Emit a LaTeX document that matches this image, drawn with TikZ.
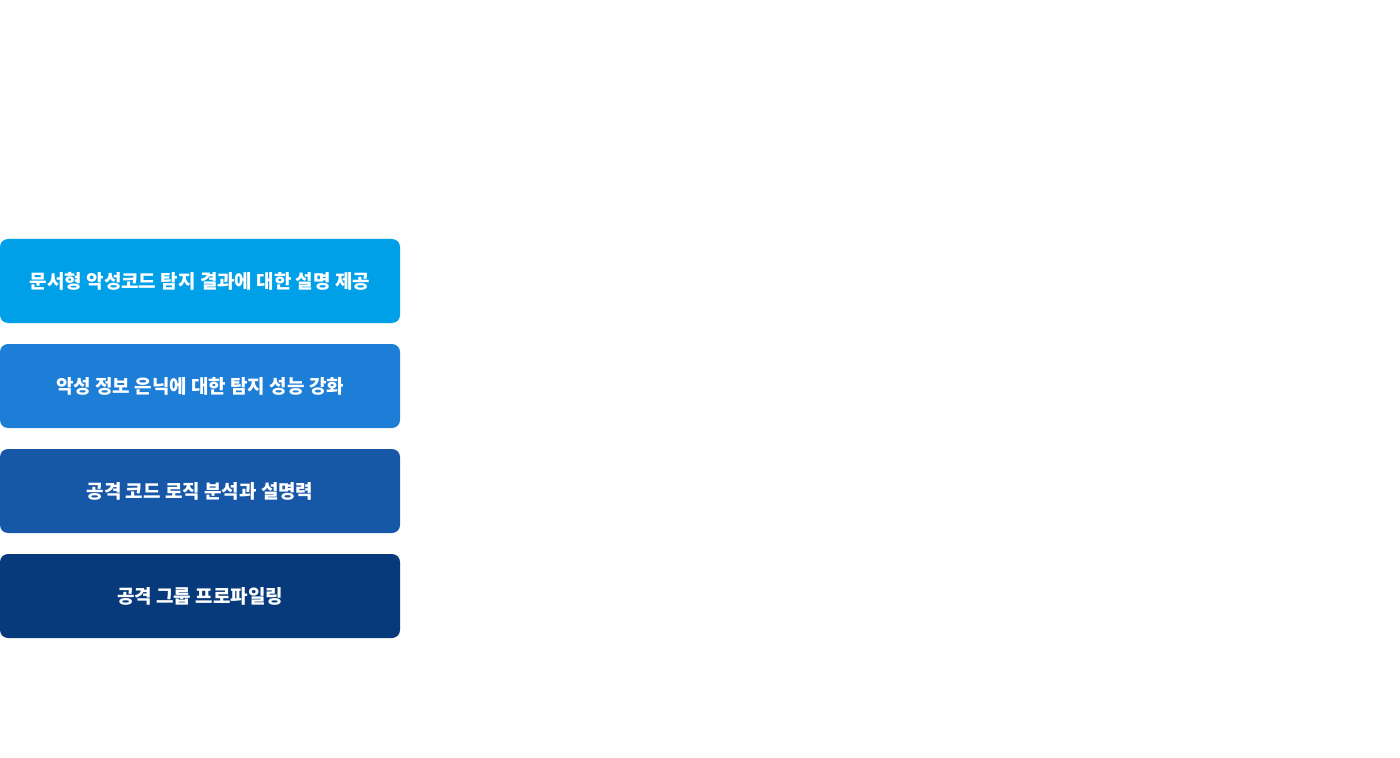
\documentclass[tikz,border=0pt]{standalone}
\usepackage{fontspec}
\newfontfamily\krfont{Noto Sans CJK KR}
\usepackage{tikz}
\usetikzlibrary{positioning}
\definecolor{SkyBlue}{HTML}{00A0E9}
\definecolor{MidBlue}{HTML}{1C7ED7}
\definecolor{DeepBlue}{HTML}{1757A8}
\definecolor{NavyBlue}{HTML}{073A7A}

\begin{document}
\begin{tikzpicture}[
		featbox/.style={rectangle, rounded corners=0.16cm, minimum width=8cm, minimum height=1.68cm,
			inner sep=0pt, outer sep=0pt, text=white, font=\krfont\bfseries\fontsize{10.8pt}{13pt}\selectfont},
		node distance=0.42cm
	]
	\useasboundingbox (0,0) rectangle (28,-15.16);
	% four stacked boxes
	\node[featbox, fill=SkyBlue, anchor=north west] (detect) at (0,-4.78) {문서형 악성코드 탐지 결과에 대한 설명 제공};
	\node[featbox, fill=MidBlue, below=of detect] (hiding) {악성 정보 은닉에 대한 탐지 성능 강화};
	\node[featbox, fill=DeepBlue, below=of hiding] (logic) {공격 코드 로직 분석과 설명력};
	\node[featbox, fill=NavyBlue, below=of logic] (profile) {공격 그룹 프로파일링};
\end{tikzpicture}
\end{document}
